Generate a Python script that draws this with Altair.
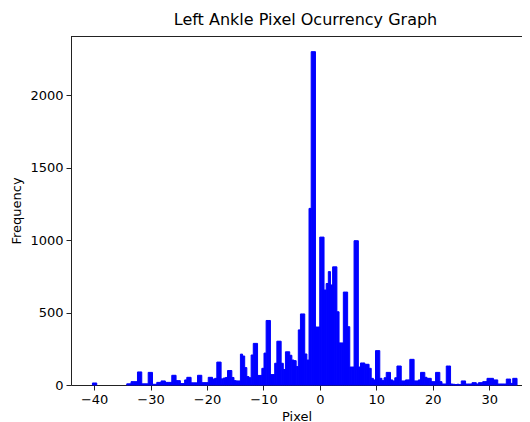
import altair as alt
import pandas as pd
import numpy as np

# Histogram (200 bins from -40.3 to 35.7)
BIN_START = -40.3
BIN_END = 35.7
counts = [
    14, 14, 0, 0, 0, 0, 0, 0, 0, 0,
    0, 0, 0, 0, 0, 0, 8, 8, 23, 23,
    23, 90, 90, 8, 8, 8, 87, 87, 5, 5,
    18, 18, 28, 28, 18, 18, 18, 67, 67, 30,
    30, 10, 10, 35, 53, 53, 15, 15, 15, 67,
    67, 16, 16, 16, 53, 53, 41, 46, 158, 158,
    42, 48, 52, 100, 100, 52, 30, 28, 28, 213,
    200, 120, 58, 50, 207, 287, 287, 66, 66, 115,
    220, 445, 445, 72, 72, 150, 302, 302, 150, 107,
    229, 229, 205, 172, 168, 127, 380, 490, 490, 214,
    172, 1218, 2299, 2299, 400, 400, 1020, 1020, 655, 700,
    782, 690, 815, 815, 505, 290, 290, 641, 641, 402,
    124, 124, 995, 995, 124, 152, 152, 143, 143, 115,
    46, 35, 237, 237, 46, 30, 50, 87, 87, 35,
    28, 50, 131, 131, 28, 28, 35, 35, 177, 177,
    28, 28, 35, 87, 87, 53, 46, 46, 23, 23,
    87, 87, 23, 7, 7, 131, 131, 7, 5, 3,
    5, 2, 28, 28, 7, 7, 7, 16, 16, 7,
    16, 16, 23, 23, 46, 46, 46, 35, 35, 7,
    7, 7, 7, 41, 41, 11, 46, 46, 0, 0,
]
x_ticks = [-40, -30, -20, -10, 0, 10, 20, 30]
y_ticks = [0, 500, 1000, 1500, 2000]

edges = np.linspace(BIN_START, BIN_END, len(counts) + 1)
df = pd.DataFrame({"x0": edges[:-1], "x1": edges[1:], "count": counts})

W, H = 451, 349
FONT = "DejaVu Sans"

xscale = alt.Scale(domain=[-44.1, 35.82], nice=False, zero=False)
yscale = alt.Scale(domain=[0, 2407], nice=False)

bars = alt.Chart(df).transform_filter("datum.count > 0").mark_bar(
    color="#0000ff", stroke="#0000ff", strokeWidth=1
).encode(
    x=alt.X("x0:Q", scale=xscale, axis=alt.Axis(
        values=x_ticks, title="Pixel", grid=False, format="d",
        domainColor="#222222", tickColor="#222222", tickSize=5,
        labelFontSize=13, titleFontSize=13, labelPadding=3, titlePadding=4,
        labelColor="black", titleColor="black", titleFontWeight="normal",
        labelFont=FONT, titleFont=FONT)),
    x2="x1:Q",
    y=alt.Y("count:Q", scale=yscale, axis=alt.Axis(
        values=y_ticks, title="Frequency", grid=False, format="d",
        domainColor="#222222", tickColor="#222222", tickSize=5,
        labelFontSize=13, titleFontSize=13, labelPadding=3, titlePadding=6,
        labelColor="black", titleColor="black", titleFontWeight="normal",
        labelFont=FONT, titleFont=FONT)),
    y2=alt.datum(0),
)

top_spine = alt.Chart(df).mark_rule(color="#222222", strokeWidth=1).encode(
    y=alt.value(0.5), x=alt.value(0), x2=alt.value(W)
)

chart = alt.layer(bars, top_spine).properties(
    width=W, height=H,
    title=alt.TitleParams("Left Ankle Pixel Ocurrency Graph", fontSize=16,
                          font=FONT, fontWeight="normal", color="black",
                          offset=8, anchor="middle", dx=9),
    autosize=alt.AutoSizeParams(type="none"),
    padding={"left": 63, "top": 28, "right": 0, "bottom": 37},
).configure_view(stroke=None)

chart.save("out.html", embed_options={"renderer": "svg", "actions": False})
